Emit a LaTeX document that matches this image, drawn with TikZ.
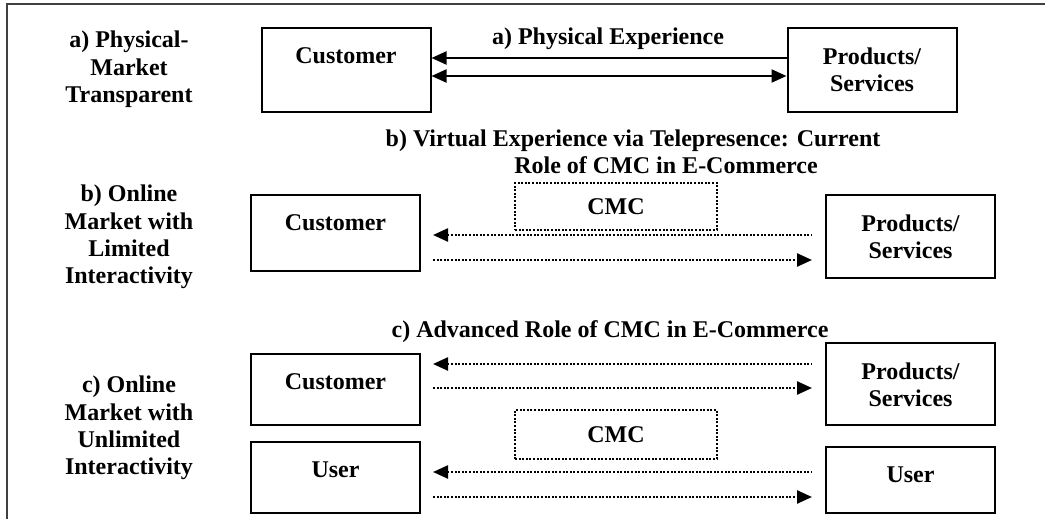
\documentclass[tikz,border=0pt]{standalone}
\usepackage{fontspec}
\setmainfont{Liberation Serif}
\usetikzlibrary{arrows.meta}

\begin{document}
\begin{tikzpicture}[x=0.5pt,y=-0.5pt,
        every node/.style={font=\bfseries\fontsize{12}{13.65}\selectfont,align=center,inner sep=0pt},
        box/.style={draw,line width=1pt,minimum width=84.5pt},
        boxtext/.style={anchor=north,yshift=-10pt},
        dotline/.style={dash pattern=on 1pt off 0.8pt},
        cmc/.style={draw,line width=1.1pt,dotline,minimum width=101pt},
        solidflow/.style={line width=1.1pt},
        dotflow/.style={line width=1.2pt,dotline,shorten <=6pt,shorten >=6.5pt},
        >={Triangle[length=7.5pt,width=6.5pt]}]
    \useasboundingbox (0,0) rectangle (1045,519);
    \draw[line width=1pt,black!75] (7,519) -- (7,4) -- (1045,4);
    % market labels
    \node (mktA) at (129,69.5) {a) Physical-\\Market\\Transparent};
    \node (mktB) at (129,237) {b) Online\\Market with\\Limited\\Interactivity};
    \node (mktC) at (129,428) {c) Online\\Market with\\Unlimited\\Interactivity};
    % headings
    \node (headA) at (608,39) {a) Physical Experience};
    \node (headB) at (633,152) {b) Virtual Experience via Telepresence: Current\\\hspace*{33pt}Role of CMC in E-Commerce};
    \node (headC) at (610,332) {c) Advanced Role of CMC in E-Commerce};
    % boxes
    \node[box,minimum height=42pt,label={[boxtext]north:Customer}] (custA) at (346,70) {};
    \node[box,minimum height=42pt,label={[boxtext]north:{Products/\\Services}}] (prodA) at (872,70) {};
    \node[box,minimum height=38pt,label={[boxtext]north:Customer}] (custB) at (335.5,233) {};
    \node[box,minimum height=41.5pt,label={[boxtext]north:{Products/\\Services}}] (prodB) at (910.5,236.5) {};
    \node[box,minimum height=35.5pt,label={[boxtext]north:Customer}] (custC) at (335.5,389.5) {};
    \node[box,minimum height=41pt,label={[boxtext]north:{Products/\\Services}}] (prodC) at (910.5,384) {};
    \node[box,minimum height=35.5pt,label={[boxtext]north:User}] (userL) at (335.5,477.5) {};
    \node[box,minimum height=33pt,label={[boxtext]north:User}] (userR) at (910.5,480) {};
    \node[cmc,minimum height=23.5pt] (cmcB) at (616,206.5) {CMC};
    \node[cmc,minimum height=24.5pt] (cmcC) at (616,434.5) {CMC};
    % flows
    \draw[solidflow,<-] (custA.east |- 0,58) -- (prodA.west |- 0,58);
    \draw[solidflow,<->] (custA.east |- 0,76) -- (prodA.west |- 0,76);
    \foreach \a/\b/\u/\l in {custB/prodB/235/260, custC/prodC/364/388, userL/userR/472/497} {
        \draw[dotflow,<-] (\a.east |- 0,\u) -- (\b.west |- 0,\u);
        \draw[dotflow,->] (\a.east |- 0,\l) -- (\b.west |- 0,\l);
    }
\end{tikzpicture}
\end{document}
